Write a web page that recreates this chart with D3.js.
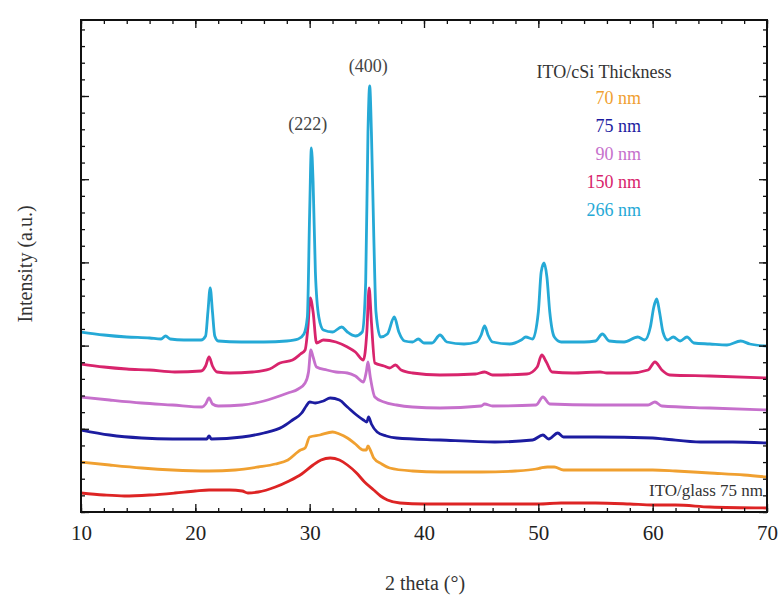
<!DOCTYPE html>
<html><head><meta charset="utf-8">
<script src="https://cdn.jsdelivr.net/npm/d3@7"></script>
<style>body{margin:0;background:#fff} svg text{font-family:"Liberation Serif","Times New Roman",Times,serif !important}</style>
</head><body><svg id="c" width="780" height="599"></svg>
<script>
// ---- data (2θ in degrees, intensity in a.u., curves already vertically offset) ----
const xTicks = [10, 20, 30, 40, 50, 60, 70];
const legendTitle = "ITO/cSi Thickness";
const legendLabels = ["70 nm", "75 nm", "90 nm", "150 nm", "266 nm"];
const legendColors = ["#f0a030", "#1c1ca0", "#c670cc", "#d8246c", "#25a9d6"];
const peakLabels = [{t:"(222)", x:30.0, y:382}, {t:"(400)", x:35.3, y:440}];
const glassLabel = "ITO/glass 75 nm";

const s266 = [[10,180],[12,177],[14,175],[16,174],[17,173],[17.4,176],[17.8,173],[19,172],[20.5,172],[20.9,176],[21.1,200],[21.3,224],[21.5,200],[21.7,176],[22,171],[24,170],[26,170],[28,171],[29,173],[29.5,178],[29.8,195],[30,300],[30.15,364],[30.3,330],[30.5,240],[30.8,195],[31.2,182],[32,180],[32.8,185],[33.3,180],[34,176],[34.6,180],[34.9,230],[35.1,380],[35.25,426],[35.4,380],[35.6,280],[35.8,200],[36.2,175],[36.8,178],[37.4,195],[37.8,180],[38.3,171],[39,170],[39.5,173],[40,169],[40.7,169],[41.4,177],[42,170],[43.5,168],[44.6,170],[45,177],[45.3,186],[45.6,177],[46,170],[47.5,168],[48.5,172],[48.9,175],[49.5,173],[50,200],[50.25,240],[50.5,249],[50.75,235],[51,200],[51.4,175],[52,170],[54,170],[55,171],[55.6,178],[56.2,171],[57.5,170],[58.7,175],[59.3,172],[59.8,185],[60.1,205],[60.35,213],[60.6,200],[60.9,180],[61.3,172],[61.8,175],[62.4,171],[63,175],[63.6,169],[65,168],[66.5,167],[67.7,171],[68.5,168],[70,166]];
const s150 = [[10,148],[12,145],[14,143],[16,142],[18.2,140],[20.5,141],[20.9,146],[21.2,155],[21.5,146],[21.9,140],[23,139],[25,140],[26.5,143],[27.4,149],[28.5,152],[29.2,158],[29.6,162],[29.85,185],[30.05,214],[30.3,200],[30.6,169],[31.2,172],[32.3,170],[33.3,165],[34,160],[34.7,152],[35,180],[35.2,224],[35.4,190],[35.7,149],[36.5,146],[37,144],[37.5,147],[38,142],[39,139],[41.4,137],[44.5,138],[45.3,140],[46,137],[49,138],[49.9,145],[50.3,157],[50.7,150],[51.2,140],[53,139],[55.4,140],[56,139],[58,139],[59.6,142],[60.2,150],[60.8,142],[61.5,137],[65,136],[70,134]];
const s90 = [[10,115],[12.5,112],[15.3,109],[18,107],[20.6,105],[20.9,108],[21.2,114],[21.5,108],[22,106],[24.1,107],[26,111],[28.1,119],[29,123],[29.6,129],[29.9,140],[30.1,162],[30.3,155],[30.6,145],[31.5,142],[32.3,140],[33.3,139],[34,136],[34.7,130],[34.95,140],[35.1,150],[35.3,135],[35.7,115],[36.5,110],[37.6,107],[39,105],[41.4,104],[45,106],[45.3,108],[46,106],[49.8,107],[50.4,115],[51,108],[55,107],[59.6,107],[60.2,110],[60.8,106],[65,104],[70,102]];
const s75 = [[10,82],[12.5,77],[15.3,74],[18,73],[21,73],[21.2,76],[21.4,73],[24.1,75],[26,79],[27.6,85],[28.5,92],[29.3,99],[29.7,106],[30,110],[30.5,109],[31.2,111],[31.8,114],[32.6,112],[33.3,105],[34.1,97],[34.7,92],[35,90],[35.15,95],[35.4,88],[35.9,80],[36.7,76],[37.6,74],[41.4,72],[46.2,70],[49.5,72],[50.4,77],[50.9,73],[51.7,79],[52.2,75],[55,75],[60,74],[61,73],[64.2,70],[67,70],[70,69]];
const s70 = [[10,50],[12.5,47],[15.3,44],[18,42],[21.2,41],[23.5,42],[25.5,45],[27,48],[28.1,52],[29.2,62],[29.6,64],[30,75],[30.9,77],[32,80],[32.6,78],[33.3,74],[34,68],[34.7,62],[34.95,62],[35.1,66],[35.3,62],[35.6,54],[36.3,48],[37,44],[39,41],[41.4,40],[45,40],[48,41],[49.8,43],[50.2,44],[50.8,45],[51.4,45],[52.2,42],[55,42],[60,42],[62,41],[65,39],[68,37],[70,35]];
const sGlass = [[10,19],[12,17],[13.8,16],[16,17],[18.2,19],[20,21],[21.2,22],[23,22],[24.1,21],[24.6,19],[25.5,20],[27,25],[28.2,31],[29.3,38],[30.3,47],[31,52],[31.8,54],[32.6,52],[33.3,47],[34.1,39],[34.8,30],[35.6,22],[36.2,16],[36.8,12],[37.9,9],[40,8],[45,8],[50,8],[52,9],[55,9],[58,8],[60,7],[62,7],[65,5],[70,4]];

const series = [
  {d: sGlass, c: "#dd2424"},
  {d: s70, c: legendColors[0]},
  {d: s75, c: legendColors[1]},
  {d: s90, c: legendColors[2]},
  {d: s150, c: legendColors[3]},
  {d: s266, c: legendColors[4]}
];

// ---- layout ----
const L = 81, R = 767, T = 20, B = 512;
const svg = d3.select("#c");
const x = d3.scaleLinear().domain([10, 70]).range([L, R]);
const y = d3.scaleLinear().domain([0, 492]).range([B, T]);

const line = d3.line().x(d => x(d[0])).y(d => y(d[1])).curve(d3.curveMonotoneX);

svg.append("clipPath").attr("id","pc").append("rect")
  .attr("x", L).attr("y", T).attr("width", R - L).attr("height", B - T);

const g = svg.append("g").attr("clip-path","url(#pc)");
series.forEach(s => {
  g.append("path").datum(s.d).attr("d", line)
    .attr("fill","none").attr("stroke", s.c).attr("stroke-width", 2.8)
    .attr("stroke-linejoin","round");
});

// axes
const minorX = d3.range(10, 70.01, 2);
const axB = d3.axisBottom(x).tickValues(xTicks).tickSize(-8).tickPadding(13).tickFormat(d3.format("d"));
const axBm = d3.axisBottom(x).tickValues(minorX).tickSize(-4).tickFormat("");
const axT = d3.axisTop(x).tickValues(xTicks).tickSize(-8).tickFormat("");
const axTm = d3.axisTop(x).tickValues(minorX).tickSize(-4).tickFormat("");
const yMinor = d3.range(0, 492, 16.64);
const yMajor = d3.range(0, 492, 83.2);
const axL = d3.axisLeft(y).tickValues(yMajor).tickSize(-8).tickFormat("");
const axLm = d3.axisLeft(y).tickValues(yMinor).tickSize(-4).tickFormat("");
const axR = d3.axisRight(y).tickValues(yMajor).tickSize(-8).tickFormat("");
const axRm = d3.axisRight(y).tickValues(yMinor).tickSize(-4).tickFormat("");

function put(ax, tx, ty){
  const a = svg.append("g").attr("transform", `translate(${tx},${ty})`).call(ax);
  a.select(".domain").remove();
  a.selectAll("line").attr("stroke","#111").attr("stroke-width",1.3);
  a.selectAll("text").attr("font-size", 21).attr("fill","#222");
  return a;
}
put(axB, 0, B); put(axBm, 0, B); put(axT, 0, T); put(axTm, 0, T);
put(axL, L, 0); put(axLm, L, 0); put(axR, R, 0); put(axRm, R, 0);

svg.append("rect").attr("x", L).attr("y", T).attr("width", R - L).attr("height", B - T)
  .attr("fill","none").attr("stroke","#111").attr("stroke-width", 2);

// titles
svg.append("text").attr("x", (L + R) / 2 + 1).attr("y", 590).attr("text-anchor","middle")
  .attr("font-size", 20).attr("fill","#333").text("2 theta (°)");
svg.append("text").attr("transform", `translate(32,${(T + B) / 2 - 2}) rotate(-90)`)
  .attr("text-anchor","middle").attr("font-size", 20).attr("fill","#333").text("Intensity (a.u.)");

// peak labels
peakLabels.forEach(p => {
  svg.append("text").attr("x", x(p.x) - 2).attr("y", y(p.y)).attr("text-anchor","middle")
    .attr("font-size", 18).attr("fill","#444").text(p.t);
});

// legend
svg.append("text").attr("x", 604).attr("y", 78).attr("text-anchor","middle")
  .attr("font-size", 18).attr("fill","#333").text(legendTitle);
legendLabels.forEach((t, i) => {
  svg.append("text").attr("x", 641).attr("y", 104 + i * 28).attr("text-anchor","end")
    .attr("font-size", 18).attr("fill", legendColors[i]).text(t);
});

svg.append("text").attr("x", 763).attr("y", 496).attr("text-anchor","end")
  .attr("font-size", 17).attr("fill","#333").text(glassLabel);
</script></body></html>
